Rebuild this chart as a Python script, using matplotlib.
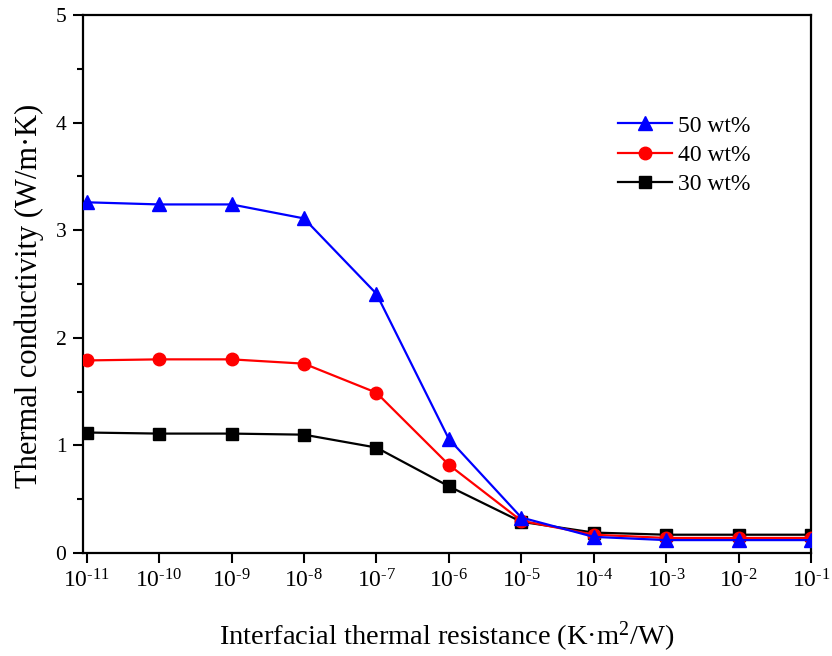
import matplotlib

matplotlib.use("Agg")
import matplotlib.pyplot as plt
from matplotlib.ticker import FixedLocator, MultipleLocator, NullLocator

plt.rcParams["font.family"] = ["Liberation Serif", "DejaVu Serif"]
plt.rcParams["mathtext.fontset"] = "custom"
plt.rcParams["mathtext.rm"] = "Liberation Serif"
plt.rcParams["mathtext.it"] = "Liberation Serif:italic"

exponents = [-11, -10, -9, -8, -7, -6, -5, -4, -3, -2, -1]
resistance = [10.0 ** e for e in exponents]
k_50 = [3.26, 3.24, 3.24, 3.11, 2.41, 1.06, 0.33, 0.15, 0.12, 0.12, 0.12]
k_40 = [1.79, 1.80, 1.80, 1.76, 1.49, 0.82, 0.30, 0.17, 0.14, 0.14, 0.14]
k_30 = [1.12, 1.11, 1.11, 1.10, 0.98, 0.62, 0.29, 0.19, 0.17, 0.17, 0.17]
tick_labels = [f"$10^{{\\text{{-}}{abs(e)}}}$" for e in exponents]

fig = plt.figure(figsize=(8.32, 6.56), dpi=100)
ax = fig.add_axes([0.0998, 0.157, 0.875, 0.82])

ax.plot(resistance, k_30, color="black", marker="s", markersize=8.5, linewidth=1.6, label="30 wt%", zorder=3)
ax.plot(resistance, k_40, color="red", marker="o", markersize=9, linewidth=1.6, label="40 wt%", zorder=4)
ax.plot(resistance, k_50, color="blue", marker="^", markersize=10, linewidth=1.6, label="50 wt%", zorder=5)

ax.set_xscale("log")
ax.set_xlim(10 ** -11.05, 10 ** -1)
ax.set_ylim(0, 5)
ax.xaxis.set_major_locator(FixedLocator(resistance))
ax.xaxis.set_minor_locator(NullLocator())
ax.set_xticklabels(tick_labels)
ax.yaxis.set_major_locator(MultipleLocator(1))
ax.yaxis.set_minor_locator(MultipleLocator(0.5))

for spine in ax.spines.values():
    spine.set_linewidth(1.6)
ax.tick_params(which="major", direction="out", length=7, width=1.5, top=False, right=False)
ax.tick_params(which="minor", direction="out", length=4, width=1.5, top=False, right=False)
ax.tick_params(axis="x", labelsize=17, pad=5)
ax.tick_params(axis="y", labelsize=15.5, pad=5)

ax.set_xlabel("Interfacial thermal resistance (K·m$^2$/W)", fontsize=20.5, labelpad=19)
ax.set_ylabel("Thermal conductivity (W/m·K)", fontsize=22)
ax.yaxis.set_label_coords(-0.053, 0.478)

handles, labels = ax.get_legend_handles_labels()
ax.legend(handles[::-1], labels[::-1], loc="upper left", bbox_to_anchor=(0.735, 0.814),
          frameon=False, fontsize=17, handlelength=2.3, labelspacing=0.33, handletextpad=0.25,
          borderpad=0, borderaxespad=0)

fig.savefig("out.png", dpi=100)
